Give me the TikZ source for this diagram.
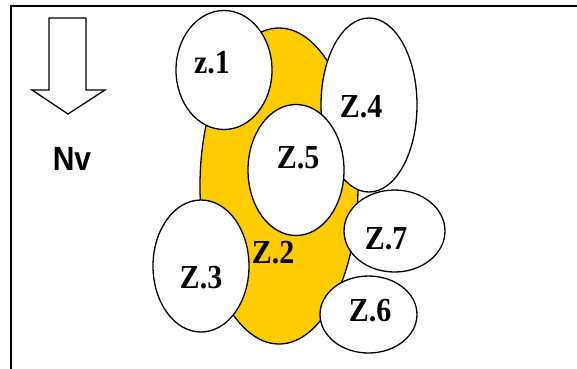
\documentclass[tikz,border=0pt]{standalone}
\usepackage{fontspec}
\setmainfont{Liberation Serif}
\setsansfont{Liberation Sans}
\usepackage{xcolor}
\usepackage{tikz}
\usetikzlibrary{shapes.geometric}

\definecolor{zoneyellow}{RGB}{255,204,0}
\newcommand{\tallbox}[1]{\scalebox{1}[1.12]{#1}}

\begin{document}
\begin{tikzpicture}[
    x=1pt, y=-1pt,
    zone/.style={ellipse, draw, line width=1.3pt, fill=white, inner sep=0pt},
    core/.style={zone, fill=zoneyellow},
    tag/.style={anchor=base, inner sep=0pt, font=\fontsize{30}{30}\selectfont\bfseries}
]
\clip (0,0) rectangle (577,368);
\draw[line width=2pt] (11,6) rectangle (600,400);

% flow direction arrow
\draw[line width=1.3pt, line join=miter, fill=white]
    (49,18) -- (86,18) -- (86,90) -- (105,90) -- (68,114) -- (32,90) -- (49,90) -- cycle;
\node[tag, font=\fontsize{30}{30}\selectfont\sffamily\bfseries] (nv) at (72,170) {\tallbox{Nv}};

% zones
\node[core, minimum width=158pt, minimum height=316pt] (z2) at (279,186) {};
\node[zone, minimum width=96pt, minimum height=119pt] (z1) at (224,70) {};
\node[zone, minimum width=96pt, minimum height=174pt] (z4) at (369,105) {};
\node[zone, minimum width=96pt, minimum height=131pt] (z5) at (296,170) {};
\node[zone, minimum width=96pt, minimum height=132pt] (z3) at (201,266) {};
\node[zone, minimum width=101pt, minimum height=82pt] (z7) at (394.5,231) {};
\node[zone, minimum width=97pt, minimum height=77pt] (z6) at (368.5,314.5) {};

\node[tag] (t1) at (212,73) {\tallbox{z.1}};
\node[tag] (t4) at (361,117) {\tallbox{Z.4}};
\node[tag] (t5) at (298,168) {\tallbox{Z.5}};
\node[tag] (t2) at (273,263) {\tallbox{Z.2}};
\node[tag] (t3) at (201,288) {\tallbox{Z.3}};
\node[tag] (t7) at (386,249) {\tallbox{Z.7}};
\node[tag] (t6) at (370,321) {\tallbox{Z.6}};
\end{tikzpicture}
\end{document}
